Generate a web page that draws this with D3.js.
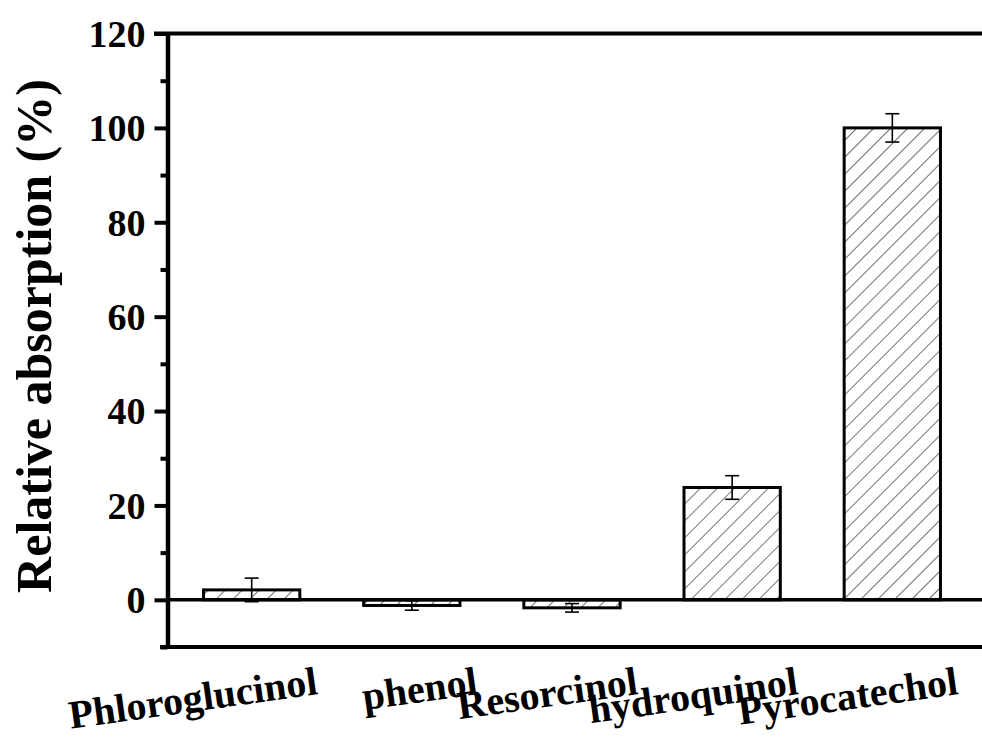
<!DOCTYPE html>
<html>
<head>
<meta charset="utf-8">
<script src="https://cdn.jsdelivr.net/npm/d3@7"></script>
<style>
  body { margin: 0; background: #fff; }
  svg { display: block; }
  text { font-family: "Liberation Serif", "Times New Roman", serif; font-weight: bold; fill: #000; }
</style>
</head>
<body>
<div id="chart"></div>
<script>
// data
const categories = ["Phloroglucinol", "phenol", "Resorcinol", "hydroquinol", "Pyrocatechol"];
const values = [2.1, -1.2, -1.7, 23.8, 100];
const errors = [2.5, 1.0, 0.9, 2.5, 3.0];
const majorTicks = [0, 20, 40, 60, 80, 100, 120];
const minorTicks = [-10, 10, 30, 50, 70, 90, 110];
const yLabel = "Relative absorption (%)";

const width = 982;
const height = 740;

const svg = d3.select("#chart").append("svg")
  .attr("width", width)
  .attr("height", height);

// diagonal hatch for the bars
svg.append("defs").append("pattern")
  .attr("id", "hatch")
  .attr("patternUnits", "userSpaceOnUse")
  .attr("width", 12)
  .attr("height", 12)
  .attr("patternTransform", "rotate(45)")
  .append("line")
  .attr("x1", 0).attr("y1", 0)
  .attr("x2", 0).attr("y2", 12)
  .attr("stroke", "#333")
  .attr("stroke-width", 1.4);

// scales
const x = d3.scaleBand()
  .domain(categories)
  .range([170, 974])
  .paddingInner(0.38)
  .paddingOuter(0.2);

const y = d3.scaleLinear()
  .domain([-10, 120])
  .range([647, 33.5]);

const axisX = 167.5;

// top frame line and bottom line
svg.append("line")
  .attr("x1", 154).attr("x2", width)
  .attr("y1", y(120)).attr("y2", y(120))
  .attr("stroke", "#000").attr("stroke-width", 4);

svg.append("line")
  .attr("x1", 160).attr("x2", width)
  .attr("y1", y(-10)).attr("y2", y(-10))
  .attr("stroke", "#000").attr("stroke-width", 4);

// bars
const bar = svg.append("g").selectAll("g")
  .data(categories)
  .enter()
  .append("g");

bar.append("rect")
  .attr("x", d => x(d) + 1.5)
  .attr("width", x.bandwidth() - 3)
  .attr("y", (d, i) => y(Math.max(0, values[i])))
  .attr("height", (d, i) => Math.abs(y(values[i]) - y(0)))
  .attr("fill", "url(#hatch)")
  .attr("stroke", "#000")
  .attr("stroke-width", 3);

// error bars
const cap = 7;
bar.append("line")
  .attr("x1", d => x(d) + x.bandwidth() / 2)
  .attr("x2", d => x(d) + x.bandwidth() / 2)
  .attr("y1", (d, i) => y(values[i] - errors[i]))
  .attr("y2", (d, i) => y(values[i] + errors[i]))
  .attr("stroke", "#000").attr("stroke-width", 1.6);

bar.append("line")
  .attr("x1", d => x(d) + x.bandwidth() / 2 - cap)
  .attr("x2", d => x(d) + x.bandwidth() / 2 + cap)
  .attr("y1", (d, i) => y(values[i] + errors[i]))
  .attr("y2", (d, i) => y(values[i] + errors[i]))
  .attr("stroke", "#000").attr("stroke-width", 1.6);

bar.append("line")
  .attr("x1", d => x(d) + x.bandwidth() / 2 - cap)
  .attr("x2", d => x(d) + x.bandwidth() / 2 + cap)
  .attr("y1", (d, i) => y(values[i] - errors[i]))
  .attr("y2", (d, i) => y(values[i] - errors[i]))
  .attr("stroke", "#000").attr("stroke-width", 1.6);

// zero line
svg.append("line")
  .attr("x1", axisX).attr("x2", width)
  .attr("y1", y(0)).attr("y2", y(0))
  .attr("stroke", "#000").attr("stroke-width", 3.5);

// y axis, major ticks with labels
const yAxis = svg.append("g")
  .attr("transform", "translate(" + axisX + ",0)")
  .attr("font-family", null)
  .call(d3.axisLeft(y).tickValues(majorTicks).tickSize(13).tickSizeOuter(0).tickPadding(9));

yAxis.select(".domain").attr("stroke", "#000").attr("stroke-width", 4.5);
yAxis.selectAll(".tick line").attr("stroke", "#000").attr("stroke-width", 4);
yAxis.selectAll(".tick text")
  .attr("font-size", 38)
  .attr("dy", "0.34em");

// minor ticks
const yMinor = svg.append("g")
  .attr("transform", "translate(" + axisX + ",0)")
  .call(d3.axisLeft(y).tickValues(minorTicks).tickSize(7).tickFormat(""));
yMinor.select(".domain").remove();
yMinor.selectAll(".tick line").attr("stroke", "#000").attr("stroke-width", 4);

// y label
svg.append("text")
  .attr("transform", "translate(51," + 336 + ") rotate(-90)")
  .attr("text-anchor", "middle")
  .attr("font-size", 50)
  .text(yLabel);

// category labels, slightly tilted
svg.append("g").selectAll("text")
  .data(categories)
  .enter()
  .append("text")
  .attr("transform", d => "translate(" + (x(d) + x.bandwidth() / 2 + 67) + ",694) rotate(-8)")
  .attr("text-anchor", "end")
  .attr("font-size", 40)
  .text(d => d);
</script>
</body>
</html>
